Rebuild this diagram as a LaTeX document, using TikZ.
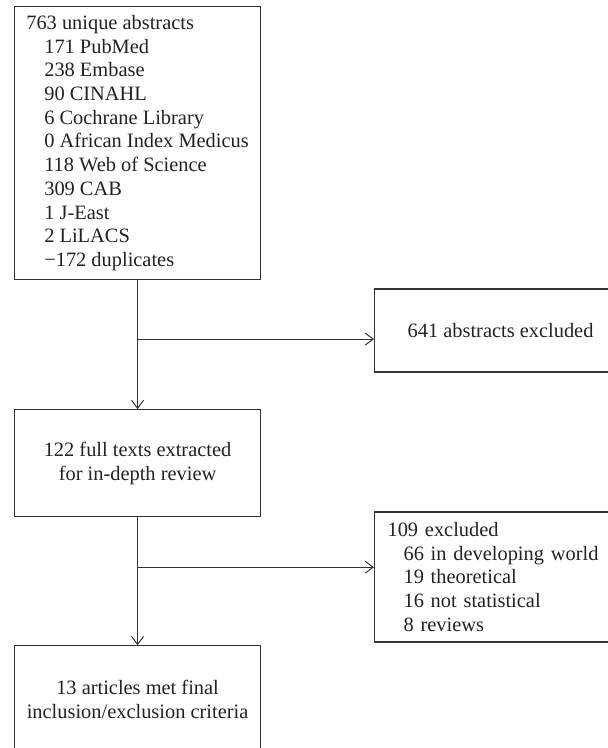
\documentclass[tikz,border=0pt]{standalone}
\usepackage{fontspec}
\setmainfont{Liberation Serif}
\usepackage{tikz}
\usetikzlibrary{positioning, arrows.meta}
\definecolor{LineGrey}{HTML}{333333}
\definecolor{TextGrey}{HTML}{222222}

\begin{document}
\begin{tikzpicture}[
            x=1pt, y=-1pt,
            box/.style={draw=LineGrey, line width=1.1pt, text=TextGrey, minimum width=246pt, inner xsep=12pt, font=\fontsize{20.4}{23.7}\selectfont},
            listbox/.style={box, align=left, inner xsep=2pt},
            midbox/.style={box, align=center, minimum height=107pt},
            sidebox/.style={box, minimum width=252pt, anchor=west},
            arrow/.style={-{Straight Barb[length=8pt, width=12pt]}, line width=1pt, LineGrey},
            link/.style={line width=1pt, LineGrey}
        ]
            \useasboundingbox (0,0) rectangle (608,748);
            
            \node[listbox, minimum height=273pt, anchor=north west] (sources) at (14,6) {%
                763 unique abstracts\\%
                \hspace*{18pt}171 PubMed\\%
                \hspace*{18pt}238 Embase\\%
                \hspace*{18pt}90 CINAHL\\%
                \hspace*{18pt}6 Cochrane Library\\%
                \hspace*{18pt}0 African Index Medicus\\%
                \hspace*{18pt}118 Web of Science\\%
                \hspace*{18pt}309 CAB\\%
                \hspace*{18pt}1 J-East\\%
                \hspace*{18pt}2 LiLACS\\%
                \hspace*{18pt}−172 duplicates%
            };
            
            \node[midbox, below=129pt of sources] (fulltexts) {122 full texts extracted\\ for in-depth review};
            
            \node[midbox, below=128pt of fulltexts] (final) {13 articles met final\\ inclusion/exclusion criteria};
            
            \node[sidebox, minimum height=83pt] (abstracts) at (374,330.5) {641 abstracts excluded};
            
            \node[sidebox, minimum height=130pt, align=left, text width=227pt, inner xsep=13pt] (excluded) at (374,577) {%
                109 excluded\\%
                \hspace*{16pt}66 in developing world\\%
                \hspace*{16pt}19 theoretical\\%
                \hspace*{16pt}16 not statistical\\%
                \hspace*{16pt}8 reviews%
            };
            
            \coordinate (split1) at ([yshift=-59pt]sources.south);
            \coordinate (split2) at ([yshift=-50pt]fulltexts.south);
            
            \draw[link] (sources) -- (split1);
            \draw[arrow] (split1) -- (fulltexts);
            \draw[arrow] (split1) -- (split1 -| abstracts.west);
            
            \draw[link] (fulltexts) -- (split2);
            \draw[arrow] (split2) -- (final);
            \draw[arrow] (split2) -- (split2 -| excluded.west);
            
        \end{tikzpicture}
\end{document}
